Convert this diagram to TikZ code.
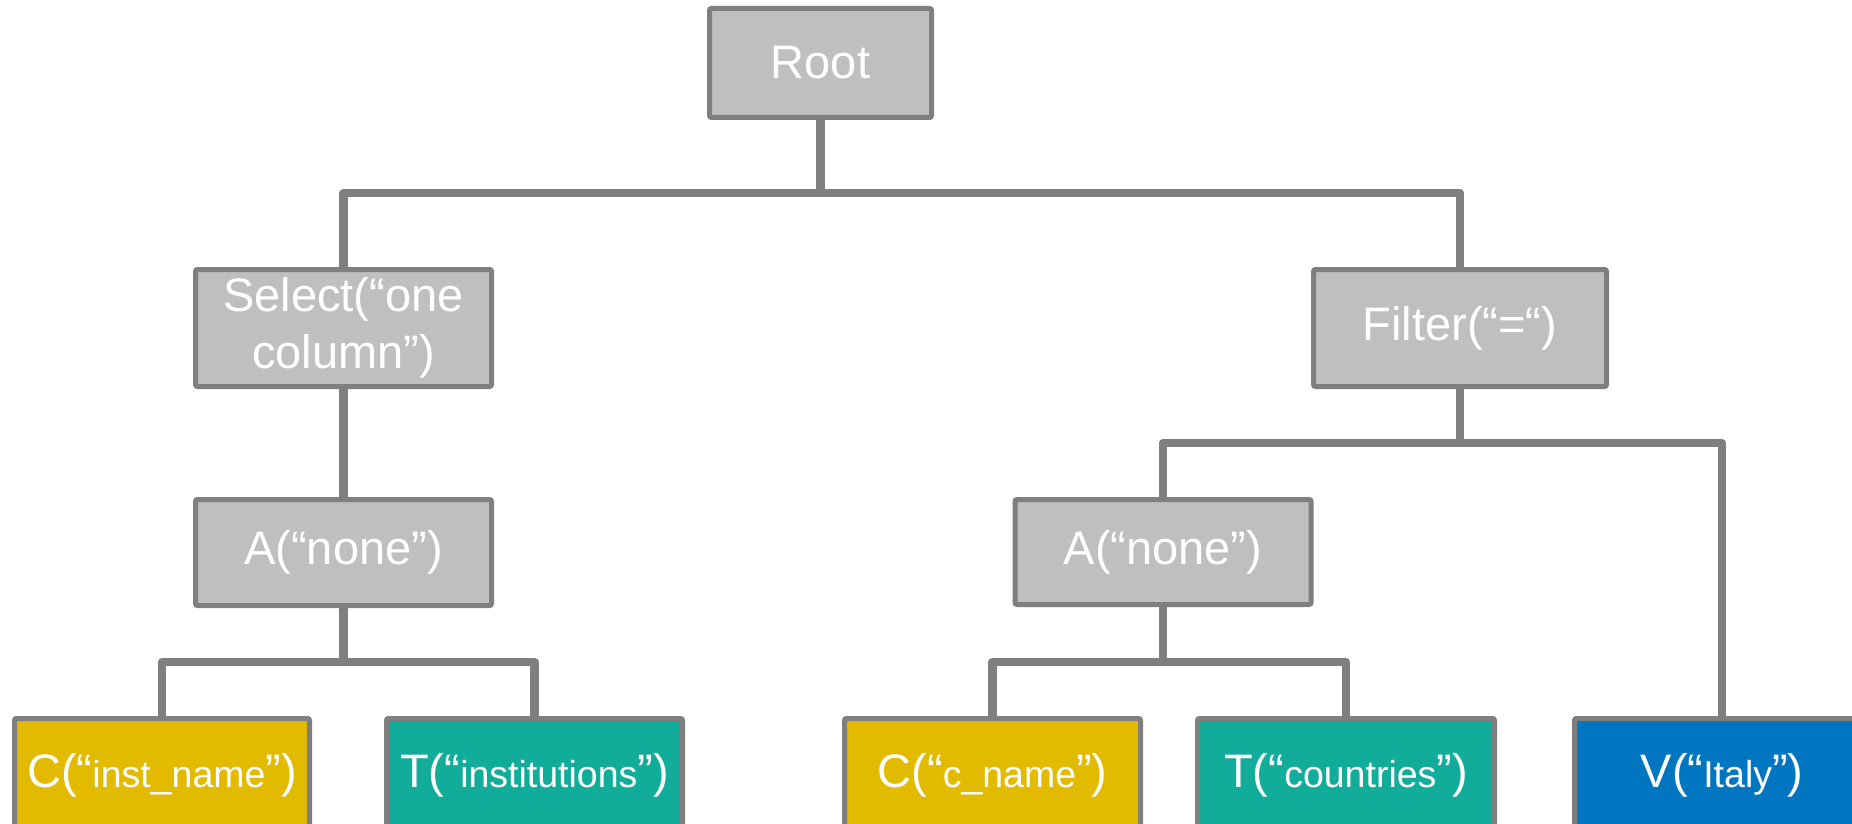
\documentclass[tikz,border=0pt]{standalone}
\usepackage{fontspec}
\setmainfont{Liberation Sans}
\pgfdeclarelayer{background}
\pgfsetlayers{background,main}

\definecolor{boxgray}{RGB}{191,191,191}
\definecolor{edgegray}{RGB}{127,127,127}
\definecolor{colyellow}{RGB}{226,186,0}
\definecolor{tabteal}{RGB}{18,173,154}
\definecolor{valblue}{RGB}{0,118,192}

% smaller type for the quoted argument of a leaf
\newcommand{\argtxt}[1]{{\fontsize{37.5}{45}\selectfont #1}}

\tikzset{
  opbox/.style={draw=edgegray, line width=5pt, fill=boxgray, text=white,
    rounded corners=2pt, inner sep=0pt, outer sep=0pt, align=center,
    font=\fontsize{47}{57}\selectfont},
  leafbox/.style={opbox, minimum height=113pt},
  colbox/.style={leafbox, fill=colyellow},
  tabbox/.style={leafbox, fill=tabteal},
  valbox/.style={leafbox, fill=valblue},
  wire/.style={draw=edgegray, line width=8.5pt, line join=round},
}

\begin{document}
\begin{tikzpicture}[x=1pt, y=-1pt]
\useasboundingbox (0,0) rectangle (1852,824);
\clip (0,0) rectangle (1852,824);

% operator nodes
\node[opbox, minimum width=222pt, minimum height=109pt] (root) at (820.5,63) {Root};
\node[opbox, minimum width=296pt, minimum height=117pt] (sel) at (343.5,328) {Select(“one\\column”)};
\node[opbox, minimum width=293pt, minimum height=117pt] (filt) at (1460,328) {Filter(“=“)};
\node[opbox, minimum width=296pt, minimum height=106pt] (anl) at (343.5,552.5) {A(“none”)};
\node[opbox, minimum width=296pt, minimum height=105pt] (anr) at (1163,552) {A(“none”)};

% leaf nodes
\node[colbox, minimum width=295pt] (cl) at (162,775) {C(“\argtxt{inst\_name}”)};
\node[tabbox, minimum width=296pt] (tl) at (534.5,775) {T(“\argtxt{institutions}”)};
\node[colbox, minimum width=296pt] (cr) at (992.5,775) {C(“\argtxt{c\_name}”)};
\node[tabbox, minimum width=297pt] (tr) at (1346,775) {T(“\argtxt{countries}”)};
\node[valbox, minimum width=295pt] (vr) at (1722,775) {V(“\argtxt{Italy}”)};

% connectors, drawn behind the boxes
\begin{pgfonlayer}{background}
\draw[wire] (root.south) -- ++(0,75.5) coordinate (j1);
\draw[wire] (sel.north) |- (j1) -| (filt.north);
\draw[wire] (sel.south) -- (anl.north);
\draw[wire] (anl.south) -- ++(0,56.5) coordinate (j2);
\draw[wire] (cl.north) |- (j2) -| (tl.north);
\draw[wire] (filt.south) -- ++(0,56.5) coordinate (j3);
\draw[wire] (anr.north) |- (j3) -| (vr.north);
\draw[wire] (anr.south) -- ++(0,57.5) coordinate (j4);
\draw[wire] (cr.north) |- (j4) -| (tr.north);
\end{pgfonlayer}
\end{tikzpicture}
\end{document}
